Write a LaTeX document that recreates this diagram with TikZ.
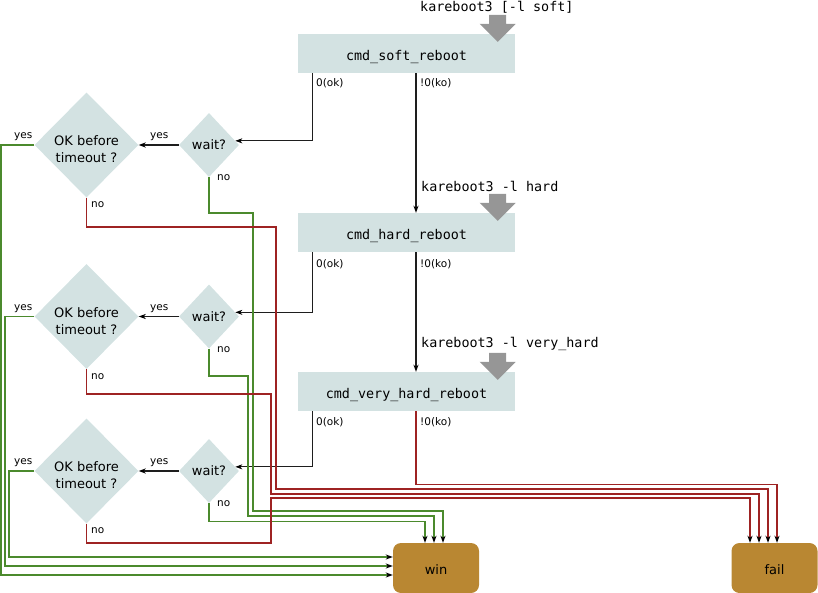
\documentclass[tikz,border=0pt]{standalone}
\usepackage{fontspec}
\setmainfont{DejaVu Sans}
\newfontfamily\monof{DejaVu Sans Mono}
\usetikzlibrary{shapes.geometric,arrows.meta}
\definecolor{boxfill}{RGB}{211,226,226}
\definecolor{endfill}{RGB}{185,135,50}
\definecolor{arrgray}{RGB}{150,150,150}
\definecolor{grnl}{RGB}{75,138,45}
\definecolor{redl}{RGB}{158,35,35}
\definecolor{blkl}{RGB}{30,30,30}
\newcommand{\dn}[2]{\raisebox{0pt}[\dimexpr\height+#1\relax][\depth]{#2}}
\newcommand{\dnn}[2]{\raisebox{0pt}[\height][\dimexpr\depth-#1\relax]{#2}}
\newcommand{\oktext}{\dnn{12pt}{\begin{tabular}{@{}c@{}}OK before\\timeout ?\end{tabular}}}
\newcommand{\waittext}{\dnn{8pt}{wait?}}
\tikzset{
  cmdbox/.style={fill=boxfill, minimum width=217pt, minimum height=39pt, inner sep=0pt,
    font=\monof\fontsize{13.4}{15}\selectfont},
  endbox/.style={fill=endfill, rounded corners=8pt, minimum width=86pt, minimum height=50pt,
    inner sep=0pt, font=\fontsize{13}{15}\selectfont},
  waitd/.style={diamond, fill=boxfill, minimum width=60pt, minimum height=64pt, inner sep=0pt,
    font=\fontsize{13}{15}\selectfont},
  okd/.style={diamond, fill=boxfill, minimum width=104pt, minimum height=105pt, inner sep=0pt,
    font=\fontsize{13}{17}\selectfont},
  cmdlbl/.style={anchor=west, inner sep=0pt, font=\monof\fontsize{13.4}{15}\selectfont},
  lbl/.style={anchor=west, inner sep=0pt, font=\fontsize{10.5}{12}\selectfont},
  tip/.style={-{Stealth[black,length=7pt,width=5pt,inset=2pt]}},
  blk/.style={draw=blkl, line width=1.15pt, tip},
  grn/.style={draw=grnl, line width=1.15pt, tip},
  rd/.style={draw=redl, line width=1.15pt, tip},
  grayarr/.pic={\fill[arrgray] (-8.5,-19) -- (8.5,-19) -- (8.5,-10) -- (18,-10) -- (0,8)
     -- (-18,-10) -- (-8.5,-10) -- cycle;}
}
\begin{document}
\begin{tikzpicture}[x=1pt,y=-1pt]
\useasboundingbox (0,0) rectangle (818,593);
% command boxes
\node[cmdbox] (soft) at (406.5,53.5) {\dn{6pt}{cmd\_soft\_reboot}};
\node[cmdbox] (hard) at (406.5,232.5) {\dn{6pt}{cmd\_hard\_reboot}};
\node[cmdbox] (vhard) at (406.5,391.5) {\dn{6pt}{cmd\_very\_hard\_reboot}};
\pic at ([xshift=-17.5pt]soft.north east) {grayarr};
\pic at ([xshift=-17.5pt]hard.north east) {grayarr};
\pic at ([xshift=-17.5pt]vhard.north east) {grayarr};
\node[cmdlbl] (l1) at (420,7) {kareboot3 [-l soft]};
\node[cmdlbl] (l2) at (421,186) {kareboot3 -l hard};
\node[cmdlbl] (l3) at (421,344) {kareboot3 -l very\_hard};
% end boxes
\node[endbox] (win) at (436,568) {\dn{4pt}{win}};
\node[endbox] (fail) at (774.5,568) {\dn{4pt}{fail}};
% diamonds
\node[waitd] (wait1) at (209,145) {\waittext};
\node[waitd] (wait2) at (209,316.5) {\waittext};
\node[waitd] (wait3) at (209,471) {\waittext};
\node[okd] (ok1) at (86.5,145) {\oktext};
\node[okd] (ok2) at (86.5,316.5) {\oktext};
\node[okd] (ok3) at (86.5,471) {\oktext};
% ok / ko labels
\node[lbl] at (316,83) {0(ok)};
\node[lbl] at (420,83) {!0(ko)};
\node[lbl] at (316,264) {0(ok)};
\node[lbl] at (420,264) {!0(ko)};
\node[lbl] at (316,422) {0(ok)};
\node[lbl] at (420,422) {!0(ko)};
% ko chain
\draw[blk] ([xshift=9.5pt]soft.south) -- ([xshift=9.5pt]hard.north);
\draw[blk] ([xshift=9.5pt]hard.south) -- ([xshift=9.5pt]vhard.north);
\draw[rd] ([xshift=9.5pt]vhard.south) -- ++(0,73) -| ([xshift=2.5pt]fail.north);
% ok branches
\draw[blk] ([xshift=15pt]soft.south west) |- (wait1.9);
\draw[blk] ([xshift=15pt]hard.south west) |- (wait2.9);
\draw[blk] ([xshift=15pt]vhard.south west) |- (wait3.9);
% wait yes
\draw[blk] (wait1.west) -- (ok1.east);
\draw[blk] (wait2.west) -- (ok2.east);
\draw[blk] (wait3.west) -- (ok3.east);
\node[lbl] at (150,137) {yes};
\node[lbl] at (150,309) {yes};
\node[lbl] at (150,463) {yes};
% ok yes -> win
\draw[grn] (ok1.west) -- (1,145) |- ([yshift=-7pt]win.west);
\draw[grn] (ok2.west) -- (5,316.5) |- ([yshift=2pt]win.west);
\draw[grn] (ok3.west) -- (9,471) |- ([yshift=11pt]win.west);
\node[lbl] at (14,137) {yes};
\node[lbl] at (14,309) {yes};
\node[lbl] at (14,463) {yes};
% wait no -> win
\draw[grn] (wait1.south) |- (253,213) -- (253,511) -| ([xshift=7pt]win.north);
\draw[grn] (wait2.south) |- (248,376) -- (248,516) -| ([xshift=-2pt]win.north);
\draw[grn] (wait3.south) -- ++(0,18) -| ([xshift=-11pt]win.north);
\node[lbl] at (217,178) {no};
\node[lbl] at (217,350) {no};
\node[lbl] at (217,504) {no};
% ok no -> fail
\draw[rd] (ok1.south) |- (276,227) -- (276,489) -| ([xshift=-6.5pt]fail.north);
\draw[rd] (ok2.south) |- (271,394) -- (271,494) -| ([xshift=-15.5pt]fail.north);
\draw[rd] (ok3.south) |- (271,543) -- (271,498) -| ([xshift=-24.5pt]fail.north);
\node[lbl] at (91,205) {no};
\node[lbl] at (91,377) {no};
\node[lbl] at (91,531) {no};
\end{tikzpicture}
\end{document}
